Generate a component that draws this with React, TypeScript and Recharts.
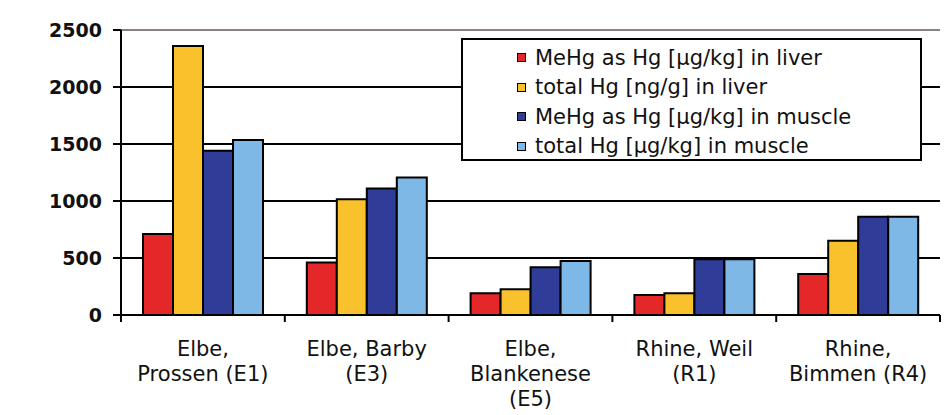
import { BarChart, Bar, XAxis, YAxis, CartesianGrid, ReferenceLine } from "recharts";

const sites = ["Elbe,\nProssen (E1)", "Elbe, Barby\n(E3)", "Elbe,\nBlankenese\n(E5)", "Rhine, Weil\n(R1)", "Rhine,\nBimmen (R4)"];
const mehgLiver = [710, 460, 190, 175, 360];
const totalHgLiver = [2360, 1015, 225, 190, 652];
const mehgMuscle = [1440, 1110, 418, 490, 862];
const totalHgMuscle = [1535, 1207, 474, 490, 862];
const yTicks = [0, 500, 1000, 1500, 2000, 2500];

const series = [
  { key: "mehgLiver", name: "MeHg as Hg [µg/kg] in liver", color: "#e4282a" },
  { key: "totalHgLiver", name: "total Hg [ng/g] in liver", color: "#f9c22c" },
  { key: "mehgMuscle", name: "MeHg as Hg [µg/kg] in muscle", color: "#2f3d98" },
  { key: "totalHgMuscle", name: "total Hg [µg/kg] in muscle", color: "#7eb8e7" },
];

const data = sites.map((site, i) => ({
  site,
  mehgLiver: mehgLiver[i],
  totalHgLiver: totalHgLiver[i],
  mehgMuscle: mehgMuscle[i],
  totalHgMuscle: totalHgMuscle[i],
}));

const font = "'DejaVu Sans', Verdana, sans-serif";

// category label plus the small tick marks at the band edges
function SiteTick({ x, y, payload, index, visibleTicksCount }: any) {
  const lines = String(payload.value).split("\n");
  const half = payload.offset || 0;
  return (
    <g>
      <line x1={x - half} x2={x - half} y1={y} y2={y + 7} stroke="#000" strokeWidth={2} />
      {index === visibleTicksCount - 1 && (
        <line x1={x + half} x2={x + half} y1={y} y2={y + 7} stroke="#000" strokeWidth={2} />
      )}
      <text x={x} y={y} textAnchor="middle" fontFamily={font} fontSize={21} fill="#111">
        {lines.map((l, i) => (
          <tspan key={i} x={x} dy={i === 0 ? 41 : 25}>{l}</tspan>
        ))}
      </text>
    </g>
  );
}

function LegendBox() {
  return (
    <div
      style={{
        position: "absolute",
        left: 461,
        top: 38,
        width: 457,
        height: 116,
        border: "2px solid #000",
        background: "#fff",
        boxSizing: "content-box",
        paddingTop: 3,
      }}
    >
      {series.map((s) => (
        <div key={s.key} style={{ display: "flex", alignItems: "center", height: 29.5, paddingLeft: 54 }}>
          <span style={{ width: 7, height: 7, background: s.color, border: "1.5px solid #000", marginRight: 9, flexShrink: 0 }} />
          <span style={{ fontFamily: font, fontSize: 21, color: "#111", whiteSpace: "nowrap" }}>{s.name}</span>
        </div>
      ))}
    </div>
  );
}

export default function App() {
  return (
    <div style={{ position: "absolute", left: 0, top: 0, width: 948, height: 415, background: "#fff" }}>
      <BarChart
        width={948}
        height={415}
        data={data}
        margin={{ top: 30, right: 8, left: 0, bottom: 0 }}
        barCategoryGap={22}
        barGap={0}
      >
        <CartesianGrid vertical={false} stroke="#000" strokeWidth={2} />
        <XAxis
          dataKey="site"
          height={100}
          stroke="#000"
          strokeWidth={2}
          tickLine={false}
          tickSize={0}
          tickMargin={0}
          tick={<SiteTick />}
          interval={0}
        />
        <YAxis
          width={121}
          domain={[0, 2500]}
          ticks={yTicks}
          tickSize={8}
          tickMargin={11}
          stroke="#000"
          strokeWidth={2}
          tick={{ fontFamily: font, fontSize: 19, fontWeight: "bold", fill: "#111" }}
        />
        <YAxis yAxisId="right" orientation="right" width={0} tick={false} tickLine={false} stroke="#8a8282" strokeWidth={2} />
        <ReferenceLine y={2500} stroke="#8a8282" strokeWidth={2} />
        {series.map((s) => (
          <Bar key={s.key} dataKey={s.key} name={s.name} fill={s.color} stroke="#000" strokeWidth={2} isAnimationActive={false} />
        ))}
      </BarChart>
      <LegendBox />
    </div>
  );
}
